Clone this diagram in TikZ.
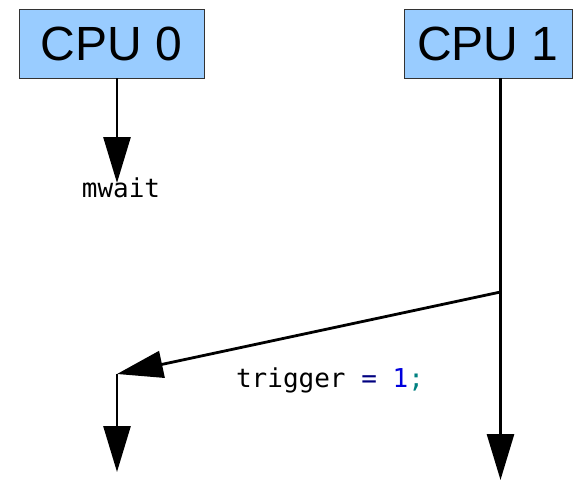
\documentclass[tikz,border=0pt]{standalone}
\usepackage{fontspec}
\setmainfont{Liberation Sans}
\newfontfamily\codefont{DejaVu Sans Mono}
\usetikzlibrary{arrows.meta}
\definecolor{boxblue}{HTML}{99CCFF}
\definecolor{opnavy}{HTML}{000080}
\definecolor{numblue}{HTML}{0000DD}
\definecolor{semiteal}{HTML}{008080}
\tikzset{
  cpubox/.style={draw=black!80, line width=0.8pt, fill=boxblue, inner sep=0pt,
    font=\fontsize{48}{52}\selectfont},
  flow/.style={line width=2.8pt, -{Triangle[length=46pt,width=27pt]}},
  code/.style={font=\codefont\fontsize{26}{30}\selectfont, inner sep=0pt}
}
\begin{document}
\begin{tikzpicture}[x=1pt,y=-1pt]
\useasboundingbox (0,0) rectangle (576,480);
\node[cpubox, minimum width=185pt, minimum height=69pt] (cpu0) at (111.5,43.5) {CPU 0};
\node[cpubox, minimum width=168pt, minimum height=69pt] (cpu1) at (488,43.5) {CPU 1};
\coordinate (w0) at (117,183);
\node[code, anchor=base] (mwait) at (121,197) {mwait};
\coordinate (s1) at (500.5,292);
\coordinate (r0) at (117,374);
\coordinate (e0) at (117,472);
\coordinate (e1) at (500.5,480);
\node[code, anchor=base] (trig) at (330,387) {trigger \textcolor{opnavy}{=} \textcolor{numblue}{1}\textcolor{semiteal}{;}};
\draw[flow] (cpu0.south -| w0) -- (w0);
\draw[flow] (cpu1.south -| s1) -- (e1);
\draw[flow] (s1) -- (r0);
\draw[flow] (r0) -- (e0);
\end{tikzpicture}
\end{document}
